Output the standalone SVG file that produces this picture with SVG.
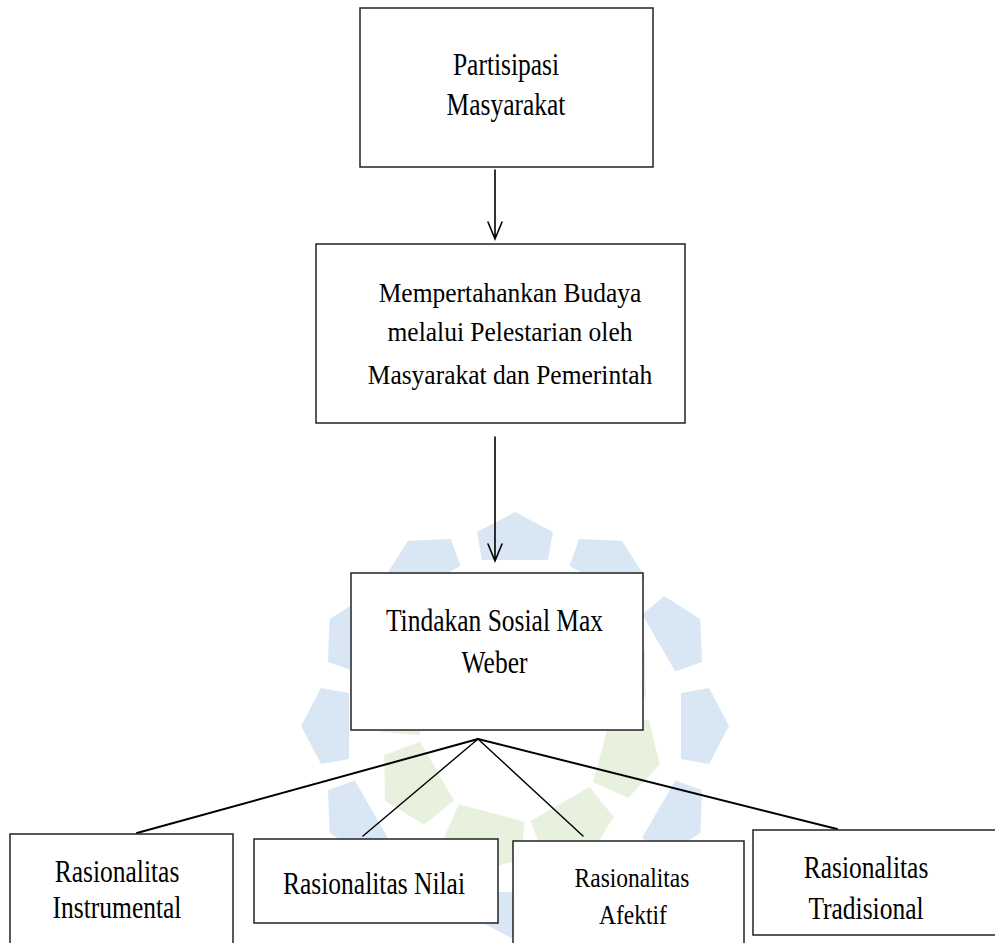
<svg xmlns="http://www.w3.org/2000/svg" width="995" height="943" viewBox="0 0 995 943">
<style>
.box{fill:#fff;stroke:#222;stroke-width:1.5}
.t{font-family:"Liberation Serif","Times New Roman",serif;font-size:25.5px;fill:#000;text-anchor:middle}
.c{stroke:#000;fill:none;stroke-linecap:round}
.wb{fill:#cfe1f2;opacity:0.8}
.wg{fill:#e2eed6;opacity:0.8}
</style>
<defs>
<polygon id="tile" points="0,-214 38,-194 33,-166 -33,-166 -38,-194"/>
<polygon id="gtile" points="0,-150 40,-128 34,-90 -34,-90 -40,-128"/>
</defs>
<rect width="995" height="943" fill="#fff"/>
<g id="watermark" transform="translate(515,726)">
<use href="#tile" class="wb" transform="rotate(0)"/>
<use href="#tile" class="wb" transform="rotate(30)"/>
<use href="#tile" class="wb" transform="rotate(60)"/>
<use href="#tile" class="wb" transform="rotate(90)"/>
<use href="#tile" class="wb" transform="rotate(120)"/>
<use href="#tile" class="wb" transform="rotate(150)"/>
<use href="#tile" class="wb" transform="rotate(180)"/>
<use href="#tile" class="wb" transform="rotate(210)"/>
<use href="#tile" class="wb" transform="rotate(240)"/>
<use href="#tile" class="wb" transform="rotate(270)"/>
<use href="#tile" class="wb" transform="rotate(300)"/>
<use href="#tile" class="wb" transform="rotate(330)"/>
<use href="#gtile" class="wg" transform="rotate(15)"/>
<use href="#gtile" class="wg" transform="rotate(60)"/>
<use href="#gtile" class="wg" transform="rotate(105)"/>
<use href="#gtile" class="wg" transform="rotate(150)"/>
<use href="#gtile" class="wg" transform="rotate(195)"/>
<use href="#gtile" class="wg" transform="rotate(240)"/>
<use href="#gtile" class="wg" transform="rotate(285)"/>
<use href="#gtile" class="wg" transform="rotate(330)"/>
</g>
<g id="connectors">
<path class="c" stroke-width="1.6" d="M495,170 V239 M488,222 L495,239 L502,222"/>
<path class="c" stroke-width="1.6" d="M495,437 V561 M488,544 L495,561 L502,544"/>
<path class="c" stroke-width="2" d="M478,739 L137,833"/>
<path class="c" stroke-width="1.4" d="M478,739 L363,836"/>
<path class="c" stroke-width="1.4" d="M478,739 L583,836"/>
<path class="c" stroke-width="2" d="M478,739 L837,829"/>
</g>
<g id="n1">
<rect class="box" x="360" y="8" width="293" height="159"/>
<text class="t" transform="translate(506,75) scale(1,1.2)">Partisipasi</text>
<text class="t" transform="translate(506,115) scale(1,1.2)">Masyarakat</text>
</g>
<g id="n2">
<rect class="box" x="316" y="244" width="369" height="179"/>
<text class="t" transform="translate(510,302) scale(1,1.1)">Mempertahankan Budaya</text>
<text class="t" transform="translate(510,341) scale(1,1.1)">melalui Pelestarian oleh</text>
<text class="t" transform="translate(510,384) scale(1,1.1)">Masyarakat dan Pemerintah</text>
</g>
<g id="n3">
<rect class="box" x="351" y="573" width="292" height="157"/>
<text class="t" transform="translate(494.5,631) scale(1,1.2)">Tindakan Sosial Max</text>
<text class="t" transform="translate(494.5,673) scale(1,1.2)">Weber</text>
</g>
<g id="n4">
<rect class="box" x="10" y="834" width="223" height="120"/>
<text class="t" transform="translate(117,882) scale(1,1.2)">Rasionalitas</text>
<text class="t" transform="translate(117,918) scale(1,1.2)">Instrumental</text>
</g>
<g id="n5">
<rect class="box" x="254" y="839" width="244" height="84"/>
<text class="t" transform="translate(374,894) scale(1,1.2)">Rasionalitas Nilai</text>
</g>
<g id="n6">
<rect class="box" x="513" y="841" width="231" height="120"/>
<text class="t" style="font-size:23.5px" transform="translate(632,887) scale(1,1.2)">Rasionalitas</text>
<text class="t" style="font-size:23.5px" transform="translate(633,924) scale(1,1.2)">Afektif</text>
</g>
<g id="n7">
<rect class="box" x="753" y="830" width="250" height="105"/>
<text class="t" transform="translate(866,878) scale(1,1.2)">Rasionalitas</text>
<text class="t" transform="translate(866,919) scale(1,1.2)">Tradisional</text>
</g>
</svg>
